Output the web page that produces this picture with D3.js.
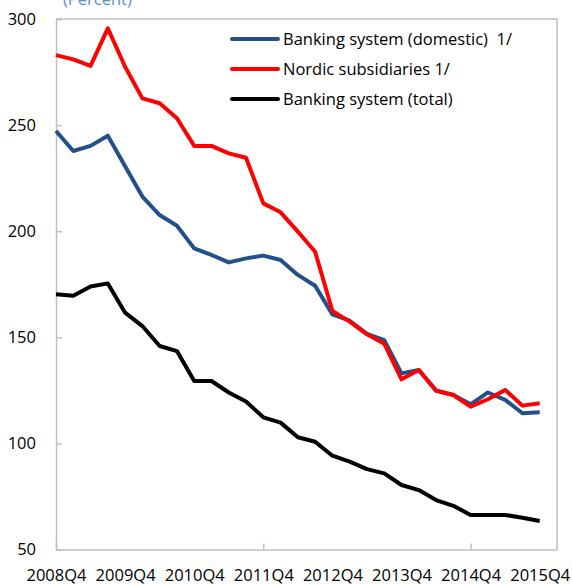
<!DOCTYPE html>
<html><head><meta charset="utf-8">
<script src="https://cdn.jsdelivr.net/npm/d3@7"></script>
<style>body{margin:0;background:#fff}svg{display:block}text{font-family:"Open Sans",sans-serif}</style>
</head><body>
<svg id="c" width="572" height="585"></svg>
<script>
const quarters = ["2008Q4","2009Q1","2009Q2","2009Q3","2009Q4","2010Q1","2010Q2","2010Q3","2010Q4","2011Q1","2011Q2","2011Q3","2011Q4","2012Q1","2012Q2","2012Q3","2012Q4","2013Q1","2013Q2","2013Q3","2013Q4","2014Q1","2014Q2","2014Q3","2014Q4","2015Q1","2015Q2","2015Q3","2015Q4"];
const domestic = [247.2,237.8,240.2,245.0,230.6,216.3,207.6,202.6,191.9,188.8,185.3,187.2,188.5,186.4,179.4,174.3,160.8,157.8,151.6,148.7,133.0,134.6,125.0,122.8,118.4,124.0,120.5,114.2,114.7];
const nordic = [283.0,281.0,277.9,295.6,277.5,262.6,260.3,253.2,240.2,240.2,236.7,234.6,213.1,208.9,199.8,190.3,162.4,157.4,151.4,147.0,130.2,134.6,124.8,122.8,117.3,120.8,125.2,117.8,118.9];
const total = [170.3,169.6,173.9,175.4,161.6,155.3,145.9,143.5,129.4,129.4,124.0,119.7,112.3,109.8,102.9,100.8,94.2,91.4,87.9,85.9,80.4,78.0,73.3,70.6,66.3,66.3,66.3,65.0,63.4];
const yTicks = [50,100,150,200,250,300];
const xLabelIdx = [0,4,8,12,16,20,24,28];
const xTickIdx = [0,12,24];
const seriesNames = ["Banking system (domestic)\u00a0 1/","Nordic subsidiaries 1/","Banking system (total)"];
const seriesColors = ["#24508a","#ff0000","#000000"];
const seriesData = [domestic, nordic, total];

const svg = d3.select("#c");
const L=56, R=557, T=19, B=549.5;
const x = d3.scaleLinear().domain([0, quarters.length]).range([L, R]);
const y = d3.scaleLinear().domain([50, 300]).range([B, T]);
const grey = "#bfbfbf";
const fs = "16.5px";

svg.append("path").attr("d", `M${L},${T}H${R}V${B}`).attr("fill","none").attr("stroke",grey).attr("stroke-width",1.5);

const ya = svg.append("g").attr("transform",`translate(${L},0)`)
  .call(d3.axisLeft(y).tickValues(yTicks).tickSize(-6).tickPadding(20).tickFormat(d3.format("d")));
ya.select(".domain").attr("stroke",grey).attr("stroke-width",1.5);
ya.selectAll(".tick line").attr("stroke",grey).attr("stroke-width",1.5);
ya.selectAll("text").attr("font-size",fs).attr("fill","#000").style("font-family","'Open Sans',sans-serif");

const xa = svg.append("g").attr("transform",`translate(0,${B})`)
  .call(d3.axisBottom(x).tickValues(xLabelIdx).tickSize(0).tickPadding(20).tickFormat(i=>quarters[i]));
xa.select(".domain").attr("stroke",grey).attr("stroke-width",1.5);
xa.selectAll("text").attr("font-size",fs).attr("fill","#000").style("font-family","'Open Sans',sans-serif");
const xt = svg.append("g").attr("transform",`translate(0,${B})`)
  .call(d3.axisBottom(x).tickValues(xTickIdx).tickSize(-6).tickFormat(""));
xt.select(".domain").remove();
xt.selectAll(".tick line").attr("stroke",grey).attr("stroke-width",1.5);

const line = d3.line().x((d,i)=>x(i)).y(d=>y(d));
seriesData.forEach((s,k)=>{
  svg.append("path").datum(s).attr("d",line).attr("fill","none")
    .attr("stroke",seriesColors[k]).attr("stroke-width",4).attr("stroke-linejoin","round");
});

const lg = svg.append("g");
seriesNames.forEach((n,k)=>{
  const yy = 39 + k*30;
  lg.append("line").attr("x1",232).attr("x2",278).attr("y1",yy).attr("y2",yy)
    .attr("stroke",seriesColors[k]).attr("stroke-width",4).attr("stroke-linecap","round");
  lg.append("text").attr("x",283).attr("y",yy).attr("dy","0.35em").attr("font-size",fs).text(n);
});

svg.append("text").attr("x",63).attr("y",5).attr("font-size",fs).attr("fill","#5b8fc7").text("(Percent)");
</script>
</body></html>
